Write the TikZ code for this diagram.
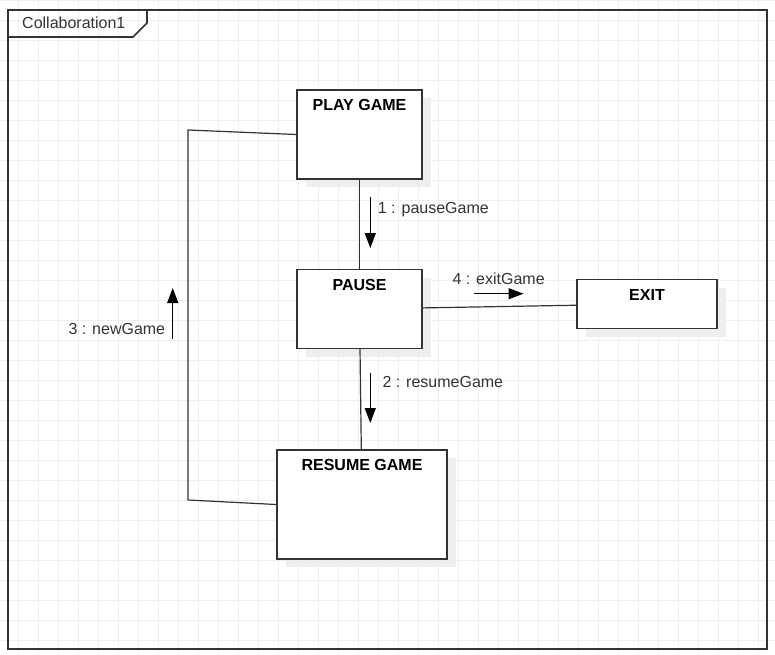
\documentclass[tikz,border=0pt]{standalone}
\usepackage{fontspec}
\setmainfont{Liberation Sans}
\usetikzlibrary{arrows.meta,shadows}

\definecolor{inkgray}{RGB}{51,51,51}
\definecolor{gridgray}{RGB}{238,238,238}
\definecolor{shadowgray}{RGB}{238,238,238}

\newcommand{\diagfont}{\fontsize{16}{19}\selectfont}

\tikzset{
  gridline/.style={draw=gridgray, line width=0.9pt},
  frameline/.style={draw=inkgray, line width=1.6pt},
  obj/.style={rectangle, draw=inkgray, line width=1.4pt, fill=white, inner sep=0pt,
    drop shadow={shadow xshift=9pt, shadow yshift=-8pt, fill=shadowgray, opacity=1}},
  title/.style={anchor=center, yshift=-16pt, font=\diagfont\bfseries, text=black},
  link/.style={draw=inkgray, line width=1.2pt},
  msg/.style={draw=black, line width=1.2pt, -{Triangle[length=15pt,width=11pt]}},
  msglabel/.style={anchor=base west, inner sep=0pt, font=\diagfont, text=inkgray},
}

\begin{document}
\begin{tikzpicture}[x=1pt,y=-1pt]

\useasboundingbox (0,0) rectangle (775,654);

% grid
\foreach \gx in {18,38,...,758} \draw[gridline] (\gx,0) -- (\gx,654);
\foreach \gy in {0.5,20.5,...,640.5} \draw[gridline] (0,\gy) -- (775,\gy);

% frame
\draw[frameline] (8,10) rectangle (767,649);
\draw[frameline] (8,37) -- (133,37) -- (147,23) -- (147,10);
\node[msglabel] (framelabel) at (22,28) {Collaboration1};

\node[obj, minimum width=125, minimum height=89, label={[title]north:PLAY GAME}] (play) at (359.5,134.5) {};
\node[obj, minimum width=125, minimum height=79, label={[title]north:PAUSE}] (pause) at (359.5,309) {};
\node[obj, minimum width=140, minimum height=49, label={[title]north:EXIT}] (exit) at (647,304) {};
\node[obj, minimum width=170, minimum height=109, label={[title]north:RESUME GAME}] (resume) at (362,504.5) {};

\coordinate (c1) at (188,130);
\coordinate (c2) at (188,500);

\draw[link] (play) edge (pause);
\draw[link] (pause) edge (exit);
\draw[link] (pause) edge (resume);
\draw[link] (play.west) -- (c1) -- (c2) -- (resume.west);

% messages
\coordinate (m1a) at (370.3,197);
\coordinate (m1b) at (370.3,248);
\coordinate (m2a) at (370.3,373);
\coordinate (m2b) at (370.3,423);
\coordinate (m3a) at (172.7,339);
\coordinate (m3b) at (172.7,288);
\coordinate (m4a) at (474,293.7);
\coordinate (m4b) at (523.5,293.7);

\draw[msg] (m1a) -- (m1b);
\draw[msg] (m2a) -- (m2b);
\draw[msg] (m3a) -- (m3b);
\draw[msg] (m4a) -- (m4b);

\node[msglabel] (m1) at (377.7,213.3) {1 : pauseGame};
\node[msglabel] (m2) at (382.3,387) {2 : resumeGame};
\node[msglabel] (m3) at (68.3,334.3) {3 : newGame};
\node[msglabel] (m4) at (452.3,284.3) {4 : exitGame};

\end{tikzpicture}
\end{document}
